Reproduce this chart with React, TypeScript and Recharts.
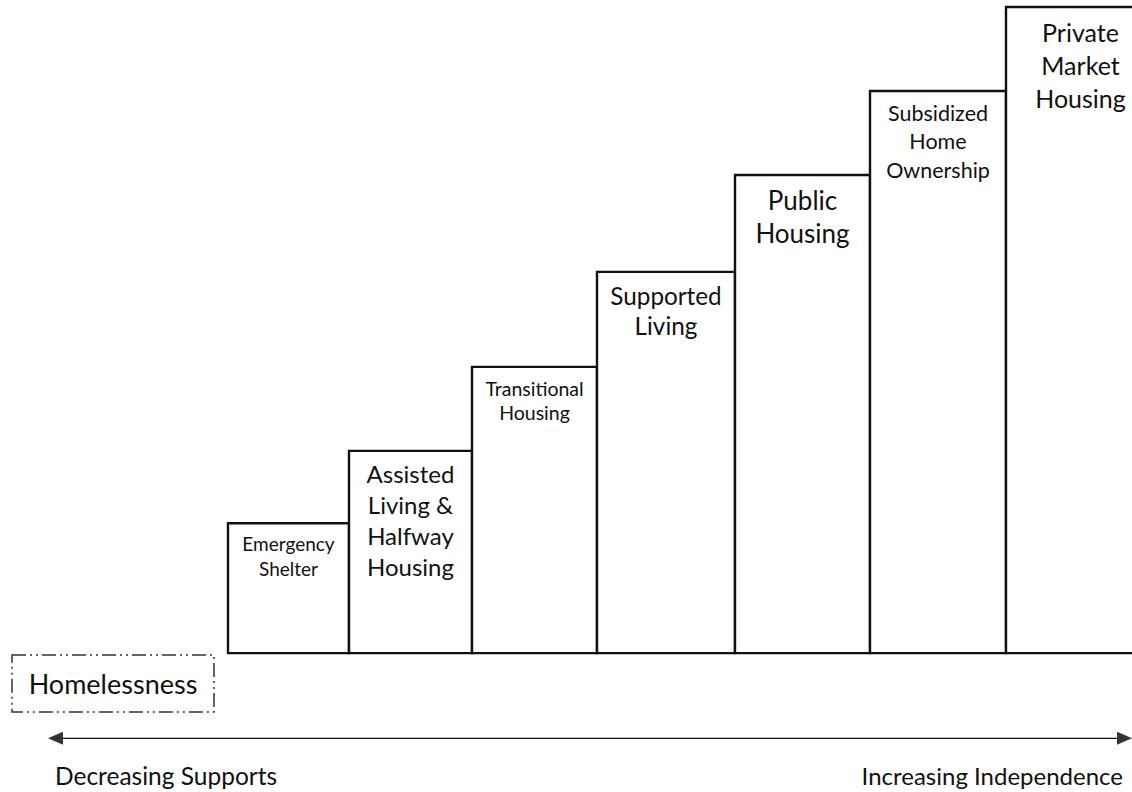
import { ComposedChart, ReferenceArea, ReferenceLine, XAxis, YAxis } from "recharts";

// Housing continuum: each step is a span on the horizontal axis and a
// "level of independence" on the vertical one (0 = street level).
const STAGE_LINES = [
  ["Emergency", "Shelter"],
  ["Assisted", "Living &", "Halfway", "Housing"],
  ["Transitional", "Housing"],
  ["Supported", "Living"],
  ["Public", "Housing"],
  ["Subsidized", "Home", "Ownership"],
  ["Private", "Market", "Housing"],
];
const STAGE_START = [228, 349, 472, 597, 735, 870, 1006];
const STAGE_END = [349, 472, 597, 735, 870, 1006, 1155];
const STAGE_LEVEL = [20.1, 31.3, 44.3, 59.0, 74.0, 87.0, 100];

const HOMELESS_LABEL = "Homelessness";
const HOMELESS_SPAN = [12, 214];
const HOMELESS_LEVEL = [-0.3, -9.1];

const ARROW_SPAN = [48, 1132];
const ARROW_LEVEL = -13.2;
const ARROW_LABELS = ["Decreasing Supports", "Increasing Independence"];

const X_DOMAIN = [0, 1132];
const Y_DOMAIN = [-21.5, 100];

// label typography differs per step in the original figure
const LABEL_SIZE = [19, 24, 19.5, 24.3, 26, 21.5, 25];
const LABEL_LEADING = [25, 31, 24, 30, 33, 28.5, 33];
const LABEL_TOP = [20, 22, 21, 23, 25, 22, 25];
const FONT = 'Lato, "Noto Sans", sans-serif';
const INK = "#111";

const rows = STAGE_START.map((start, i) => ({ start, end: STAGE_END[i], level: STAGE_LEVEL[i] }));

function StageLabel({ viewBox, index }: any) {
  const { x, y, width } = viewBox;
  const cx = x + width / 2;
  return (
    <text x={cx} textAnchor="middle" fontFamily={FONT} fontSize={LABEL_SIZE[index]} fill={INK} dominantBaseline="central">
      {STAGE_LINES[index].map((line, i) => (
        <tspan key={line} x={cx} y={y + LABEL_TOP[index] + i * LABEL_LEADING[index]}>
          {line}
        </tspan>
      ))}
    </text>
  );
}

function HomelessLabel({ viewBox }: any) {
  const { x, y, width, height } = viewBox;
  return (
    <text
      x={x + width / 2}
      y={y + height / 2}
      textAnchor="middle"
      dominantBaseline="central"
      fontFamily={FONT}
      fontSize={27}
      fill={INK}
    >
      {HOMELESS_LABEL}
    </text>
  );
}

function Arrow({ x1, y1, x2 }: any) {
  const head = 15;
  const half = 6.5;
  return (
    <g>
      <line x1={x1 + head - 2} y1={y1} x2={x2 - head + 2} y2={y1} stroke={INK} strokeWidth={1.3} />
      <polygon points={`${x1},${y1} ${x1 + head},${y1 - half} ${x1 + head},${y1 + half}`} fill="#333" />
      <polygon points={`${x2},${y1} ${x2 - head},${y1 - half} ${x2 - head},${y1 + half}`} fill="#333" />
      <text x={x1 + 7} y={y1 + 47} fontFamily={FONT} fontSize={24.5} fill={INK}>
        {ARROW_LABELS[0]}
      </text>
      <text x={x2 - 9} y={y1 + 47} textAnchor="end" fontFamily={FONT} fontSize={24} fill={INK}>
        {ARROW_LABELS[1]}
      </text>
    </g>
  );
}

export default function App() {
  return (
    <div style={{ position: "absolute", left: 0, top: 0, background: "#fff" }}>
      <ComposedChart width={1132} height={792} data={rows} margin={{ top: 7, right: 0, bottom: 0, left: 0 }}>
        <XAxis dataKey="start" type="number" domain={X_DOMAIN} allowDataOverflow hide />
        <YAxis type="number" domain={Y_DOMAIN} allowDataOverflow hide />
        {rows.map((r, i) => (
          <ReferenceArea
            key={i}
            x1={r.start}
            x2={r.end}
            y1={0}
            y2={r.level}
            ifOverflow="visible"
            fill="#fff"
            fillOpacity={1}
            stroke={INK}
            strokeWidth={2.4}
            label={(p: any) => <StageLabel {...p} index={i} />}
          />
        ))}
        <ReferenceArea
          x1={HOMELESS_SPAN[0]}
          x2={HOMELESS_SPAN[1]}
          y1={HOMELESS_LEVEL[0]}
          y2={HOMELESS_LEVEL[1]}
          ifOverflow="visible"
          fill="none"
          stroke="#333"
          strokeWidth={1.5}
          strokeDasharray="14 4 2 4 2 4"
          label={(p: any) => <HomelessLabel {...p} />}
        />
        <ReferenceLine
          segment={[
            { x: ARROW_SPAN[0], y: ARROW_LEVEL },
            { x: ARROW_SPAN[1], y: ARROW_LEVEL },
          ]}
          ifOverflow="visible"
          shape={(p: any) => <Arrow {...p} />}
        />
      </ComposedChart>
    </div>
  );
}
